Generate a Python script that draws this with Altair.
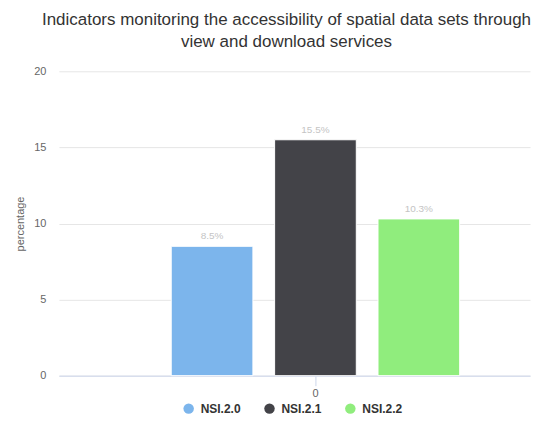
import altair as alt
import pandas as pd

categories = ["0", "0", "0"]
series = ["NSI.2.0", "NSI.2.1", "NSI.2.2"]
values = [8.5, 15.5, 10.3]
labels = ["8.5%", "15.5%", "10.3%"]
colors = ["#7cb5ec", "#434348", "#90ed7d"]

df = pd.DataFrame({"cat": categories, "series": series, "value": values, "label": labels})

x = alt.X("cat:N", title=None,
          scale=alt.Scale(paddingInner=0, paddingOuter=0.3166, align=0.615),
          axis=alt.Axis(labelAngle=0, domainColor="#ccd6eb", tickColor="#ccd6eb",
                        tickSize=10, labelColor="#666666", labelFontSize=11,
                        labelPadding=2, grid=False))
xo = alt.XOffset("series:N", scale=alt.Scale(paddingInner=0.21, paddingOuter=0))
y = alt.Y("value:Q", title="percentage",
          scale=alt.Scale(domain=[0, 20]),
          axis=alt.Axis(values=[0, 5, 10, 15, 20], grid=True, gridColor="#e6e6e6",
                        domain=False, ticks=False, labelColor="#666666", labelFontSize=11,
                        labelPadding=13, titleColor="#666666", titleFontSize=11,
                        titleFontWeight="normal", titlePadding=8))

color = alt.Color("series:N", title=None,
                  scale=alt.Scale(domain=series, range=colors),
                  legend=alt.Legend(orient="none", direction="horizontal", legendX=124,
                                    legendY=332, symbolType="circle", symbolSize=110,
                                    symbolStrokeWidth=0, labelFontSize=12,
                                    labelFontWeight="bold", labelColor="#333333",
                                    columnPadding=22, labelOffset=6))

bars = alt.Chart(df).mark_bar(stroke="white", strokeWidth=1).encode(x=x, xOffset=xo, y=y, color=color)
text = alt.Chart(df).mark_text(baseline="bottom", dy=-5, fontSize=10, color="#c4c4c4").encode(
    x=x, xOffset=xo, y=y, text="label:N")

chart = (bars + text).properties(
    width=472, height=305,
    padding={"left": 6, "top": 3, "right": 0, "bottom": 0},
    title=alt.TitleParams(
        ["Indicators monitoring the accessibility of spatial data sets through",
         "view and download services"],
        anchor="middle", frame="group", dx=-8, fontSize=17, fontWeight="normal",
        color="#333333", lineHeight=22, offset=14, font="Liberation Sans"),
).configure(font="Liberation Sans").configure_view(stroke=None)

chart.save("out.html", embed_options={"renderer": "svg", "actions": False})
